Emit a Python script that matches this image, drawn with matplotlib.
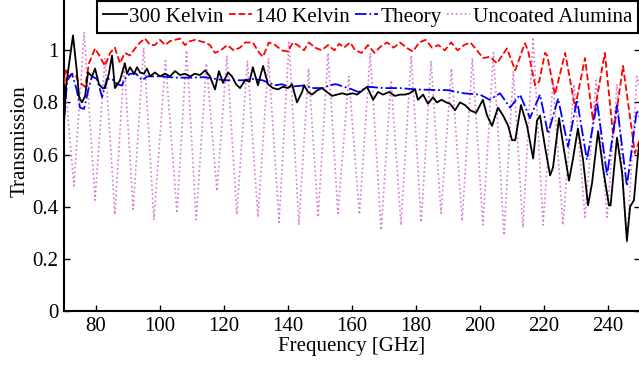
import numpy as np
import matplotlib
matplotlib.use("Agg")
import matplotlib.pyplot as plt

plt.rcParams['font.family'] = ['Liberation Serif', 'DejaVu Serif']
plt.rcParams['font.size'] = 15

# 300 Kelvin measurement
f_300 = [70, 70.6, 71.9, 72.8, 74, 74.7, 75.6, 76.6, 77.5, 78.75, 79.7, 80.9, 82, 82.8, 84, 85,
         85.9, 87.5, 89, 89.7, 90.6, 91.9, 92.8, 93.75, 95, 95.9, 96.9, 98.4, 100, 101.6, 103.1,
         104.7, 106.25, 107.8, 109.4, 110.9, 112.5, 114.1, 115.6, 117.2, 118.4, 119.7, 121.25,
         122.5, 123.75, 125, 126.6, 128, 129, 130.6, 132.2, 133.75, 135.3, 136.9, 138.4, 140,
         141.25, 142.8, 144.4, 145, 146.25, 147.5, 149, 150.6, 152.2, 153.75, 155.3, 156.9, 158.4,
         160.3, 161.6, 164.7, 166.6, 168.1, 169.7, 171.6, 173.4, 175, 176.6, 178, 179.7, 180.6,
         182.2, 183.75, 185.3, 186.5, 188, 189.5, 190.6, 192.2, 193.75, 195.3, 196.9, 198.75,
         200.9, 202.2, 203.75, 205.6, 207.2, 208.8, 210, 211, 212.8, 214.7, 216.6, 217.8, 218.75,
         220.3, 221.9, 222.8, 224.7, 226.25, 227.8, 229, 230.6, 232.2, 233.75, 235, 236.9, 238.4,
         240.3, 240.8, 242.8, 244.4, 245.9, 246.9, 248.1, 249.4, 250]
t_300 = [0.72, 0.86, 0.975, 1.057, 0.92, 0.82, 0.80, 0.825, 0.915, 0.90, 0.93, 0.87, 0.855, 0.855,
         0.91, 0.98, 0.855, 0.885, 0.95, 0.91, 0.935, 0.91, 0.935, 0.915, 0.91, 0.93, 0.90, 0.915,
         0.90, 0.91, 0.90, 0.92, 0.905, 0.91, 0.90, 0.91, 0.905, 0.923, 0.90, 0.85, 0.92, 0.875,
         0.915, 0.90, 0.87, 0.855, 0.885, 0.88, 0.935, 0.866, 0.94, 0.87, 0.855, 0.85, 0.86, 0.855,
         0.87, 0.80, 0.84, 0.866, 0.84, 0.83, 0.845, 0.855, 0.84, 0.825, 0.83, 0.835, 0.83, 0.835,
         0.83, 0.86, 0.81, 0.84, 0.83, 0.84, 0.825, 0.83, 0.83, 0.835, 0.85, 0.81, 0.83, 0.795,
         0.82, 0.80, 0.81, 0.80, 0.795, 0.77, 0.80, 0.79, 0.77, 0.76, 0.81, 0.75, 0.71, 0.78, 0.75,
         0.71, 0.655, 0.655, 0.79, 0.71, 0.585, 0.73, 0.75, 0.63, 0.52, 0.55, 0.74, 0.617, 0.50,
         0.58, 0.70, 0.58, 0.405, 0.49, 0.69, 0.55, 0.405, 0.405, 0.665, 0.53, 0.27, 0.40, 0.425,
         0.605, 0.66]

# 140 Kelvin measurement
f_140 = [70, 70.6, 71.5, 72.5, 73.8, 74.5, 76.6, 77.8, 79.7, 81.25, 82.8, 84.4, 85.9, 87.5, 89,
         90.6, 92.2, 93.75, 95.3, 96.9, 98.4, 100, 101.6, 103.1, 106.25, 107.8, 109.4, 111, 112.5,
         114, 115.6, 117.2, 119, 121, 123, 125, 126.6, 129, 131, 132.2, 134, 136, 138, 140, 141.5,
         143, 145, 146.5, 148.5, 150.5, 152.5, 154.5, 156, 157.5, 159.4, 161, 163, 165, 167, 169,
         171, 173, 175, 177, 179, 181, 183, 185, 187, 189, 191, 193, 195, 197, 199, 201, 203.1,
         205.3, 208.4, 211, 214, 215, 217.2, 218.5, 220.3, 221, 223.4, 226.6, 229.7, 232.8, 235.3,
         239, 241.6, 244.7, 248.4, 250]
t_140 = [0.87, 0.923, 0.90, 0.91, 0.90, 0.88, 0.86, 0.95, 1.007, 0.975, 0.94, 0.99, 1.01, 0.95,
         0.99, 0.98, 1.007, 1.03, 1.045, 1.02, 1.02, 1.04, 1.02, 1.035, 1.045, 1.02, 1.035, 1.04,
         1.035, 1.03, 1.02, 0.99, 1.0, 1.02, 1.0, 1.01, 1.03, 1.03, 0.99, 0.975, 1.03, 1.02, 1.0,
         0.995, 1.03, 1.02, 1.0, 1.03, 1.01, 1.0, 1.02, 1.0, 1.025, 1.01, 1.03, 1.0, 0.99, 1.02,
         0.99, 1.015, 1.03, 1.01, 1.03, 1.01, 0.995, 1.03, 1.04, 1.01, 1.02, 1.0, 1.03, 1.0, 1.02,
         1.03, 1.0, 0.97, 0.975, 0.95, 1.007, 0.923, 1.027, 1.0, 0.866, 0.88, 0.99, 0.98, 0.83,
         0.99, 0.78, 0.97, 0.73, 0.99, 0.675, 0.94, 0.605, 0.66]

# theory curve
f_th = [70, 71, 72.5, 74, 75, 76.25, 77.8, 78.75, 80.3, 81.9, 83.4, 85, 86.6, 88.1, 89, 90.6,
        92.5, 94.4, 96, 100, 105, 110, 114, 120, 126, 129, 132, 134, 136.25, 138, 140.5, 145, 148,
        151, 153, 155, 157.5, 160, 162, 165, 170, 175, 180, 185, 190, 195, 200, 203, 206.25,
        209.4, 212.5, 215.6, 218.75, 221.25, 224.4, 227.5, 230.3, 233.4, 236.6, 239.7, 242.8,
        245.9, 249, 250]
t_th = [0.74, 0.885, 0.91, 0.847, 0.78, 0.775, 0.86, 0.90, 0.89, 0.82, 0.89, 0.89, 0.87, 0.865,
        0.89, 0.91, 0.91, 0.885, 0.90, 0.90, 0.895, 0.895, 0.897, 0.885, 0.885, 0.89, 0.885, 0.875,
        0.866, 0.87, 0.86, 0.865, 0.855, 0.855, 0.866, 0.87, 0.86, 0.85, 0.84, 0.86, 0.855, 0.855,
        0.85, 0.848, 0.847, 0.835, 0.83, 0.81, 0.835, 0.78, 0.83, 0.74, 0.83, 0.68, 0.815, 0.63,
        0.81, 0.58, 0.80, 0.52, 0.79, 0.48, 0.77, 0.74]

# uncoated alumina (peaks and dips of fringes)
f_al = [70, 73.1, 76.3, 79.7, 82.8, 85.9, 88.8, 91.6, 94.9, 98.1, 101.7, 105.3, 108.3, 111.3,
        114.5, 117.8, 120.9, 124, 127.3, 130.6, 133.9, 137.2, 140.3, 143.4, 146.4, 149.4, 152.5,
        155.6, 159, 162.3, 165.7, 169.1, 172.2, 175.3, 178.5, 181.6, 184.7, 187.8, 191.1, 194.4,
        197.6, 200.9, 204.2, 207.5, 210.4, 213.4, 216.6, 219.7, 222.8, 225.9, 229.4, 232.8, 236.3,
        239.7, 242.8, 245.9, 249, 250]
t_al = [0.92, 0.48, 1.07, 0.425, 0.97, 0.37, 0.95, 0.39, 1.01, 0.35, 0.96, 0.375, 1.0, 0.35,
        0.95, 0.46, 0.98, 0.37, 0.96, 0.36, 0.97, 0.34, 1.03, 0.33, 0.93, 0.36, 0.99, 0.375, 0.9,
        0.37, 0.99, 0.31, 0.885, 0.33, 0.98, 0.34, 0.96, 0.375, 0.93, 0.345, 0.97, 0.33, 0.99,
        0.29, 0.92, 0.32, 1.05, 0.33, 0.885, 0.33, 0.87, 0.36, 0.885, 0.36, 0.87, 0.26, 0.90, 0.85]

fig = plt.figure(figsize=(6.39, 3.68), dpi=100)
ax = fig.add_axes([0.1002, 0.1549, 0.9014, 0.921])

ax.plot(f_300, t_300, 'k-', lw=1.3, label='300 Kelvin', zorder=4)
ax.plot(f_140, t_140, 'r--', lw=1.3, label='140 Kelvin', zorder=3)
ax.plot(f_th, t_th, 'b-.', lw=1.3, label='Theory', zorder=3)
ax.plot(f_al, t_al, ':', color='#d877d8', lw=1.2, label='Uncoated Alumina', zorder=2)

ax.set_xlim(70, 250)
ax.set_ylim(0, 1.3)
ax.set_xticks([80, 100, 120, 140, 160, 180, 200, 220, 240])
ax.set_yticks([0, 0.2, 0.4, 0.6, 0.8, 1.0])
ax.set_yticklabels(['0', '0.2', '0.4', '0.6', '0.8', '1'])
ax.tick_params(direction='in', length=4.5, width=1, top=True, right=True, pad=4)
for s in ax.spines.values():
    s.set_linewidth(1.5)

ax.set_xlabel('Frequency [GHz]', labelpad=1)
ax.set_ylabel('Transmission', labelpad=2)

leg = ax.legend(loc='lower left', bbox_to_anchor=(97 / 639, 1 - 33 / 368),
                bbox_transform=fig.transFigure, ncol=4, handlelength=1.1,
                handletextpad=0.12, columnspacing=0.25, borderpad=0.3,
                borderaxespad=0, fancybox=False, framealpha=1, fontsize=15.2)
leg.get_frame().set_edgecolor('black')
leg.get_frame().set_linewidth(1.5)

fig.savefig('out.png', dpi=100)
